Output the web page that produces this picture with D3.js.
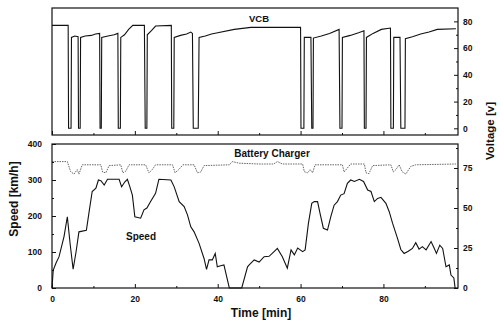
<!DOCTYPE html>
<html>
<head>
<meta charset="utf-8">
<script src="https://cdn.jsdelivr.net/npm/d3@7"></script>
<style>
    body { margin: 0; background: #fff; }
    svg { display: block; }
    text { font-family: "Liberation Sans", Arial, sans-serif; font-weight: bold; fill: #111; }
</style>
</head>
<body>
<svg id="chart" width="501" height="320"></svg>
<script>
// VCB voltage (top panel), time in min / volts
const vcbTime = [0, 3.9, 4.0, 4.6, 4.7, 5.5, 6.3, 6.4, 6.8, 6.9, 8, 9.5, 10.5, 11.5, 11.6, 11.9, 12.0,
    13.5, 15, 15.9, 16.0, 16.5, 16.6, 17.5, 18.5, 19.5, 22.3, 22.5, 22.9, 23.0, 24, 25, 28.8, 28.9, 29.4, 29.5,
    31, 32.5, 33.5, 33.9, 34.1, 35.3, 35.5, 37, 38.5, 40, 44, 48, 55, 60, 60.1, 60.8, 60.9, 62.5, 62.7, 63.0, 63.1,
    65, 67, 69.3, 69.5, 70.0, 70.1, 72, 74, 75.3, 75.4, 75.8, 75.9, 77.5, 79.5, 81.7, 81.8, 82.4, 82.5,
    84.0, 84.2, 85.2, 85.3, 87, 89, 91, 93, 97.5];
const vcbVolt = [77, 77, 0, 0, 68, 69, 68.5, 0, 0, 68, 69, 69.5, 70.5, 71, 0, 0, 68,
    69, 70, 71, 0, 0, 68, 70, 74, 77, 77, 0, 0, 70, 73, 76.5, 77, 0, 0, 68,
    69.5, 70.5, 72, 71, 0, 0, 68, 69, 70.5, 71.5, 74, 75.5, 75.5, 75.5, 0, 0, 68, 68, 0, 0, 67.5,
    69, 71, 74, 0, 0, 68, 69.5, 71.5, 73, 0, 0, 68, 71, 74, 75, 0, 0, 68,
    68, 0, 0, 67, 68.5, 70.5, 72, 74, 74.5];

// battery charger voltage (bottom panel, right axis)
const chgTime = [0, 3.7, 4.5, 5.3, 6.1, 6.5, 7.3, 11.8, 12.2, 13.0, 13.8, 16.6, 17.1, 17.8, 18.6,
    22.6, 23.4, 24.2, 25, 29.1, 29.7, 30.6, 31.6, 34.3, 35.1, 35.9, 36.7, 42.8, 43.5, 45.2, 50, 53.5, 54.4, 55.6,
    60.5, 60.9, 61.7, 62.3, 62.9, 63.5, 70.1, 70.5, 71.3, 72.1, 75.4, 75.8, 76.5, 77.4,
    81.8, 82.4, 83.0, 83.8, 84.5, 85.4, 86.6, 87.8, 97.5];
const chgVolt = [79, 79, 72.7, 71.2, 74, 71.2, 77, 77, 72.5, 72, 76.5, 77, 72, 73, 77,
    77, 72, 74, 77, 77, 72, 74, 77, 77, 72, 72.5, 76.5, 77, 79, 78, 77.5, 77.5, 79, 77.5,
    77.5, 72.7, 72, 74, 72, 77, 77, 72.5, 75, 77.5, 77.5, 72, 71.5, 76.5,
    77, 72.5, 74, 77, 72.7, 71.2, 76, 77, 77.5];

// train speed (bottom panel, left axis)
const spdTime = [0, 0.3, 1.0, 1.7, 2.9, 3.7, 4.4, 5.1, 5.8, 6.5, 8.3, 9.0, 9.7, 10.6, 11.2, 11.8, 12.6, 13.4,
    16.2, 16.8, 17.6, 18.2, 18.8, 19.4, 20.0, 21.4, 22.2, 22.9, 23.8, 25, 25.8, 28.7, 29.5, 30.7, 31.9, 32.7,
    33.5, 34.3, 35.5, 36.7, 37.3, 37.9, 38.7, 39.4, 39.9, 40.7, 41.5, 42.8, 45.8, 47.2, 47.6, 48.8, 50.0, 51.2,
    52.4, 53.6, 54.4, 55.6, 56.8, 57.7, 58.5, 59.3, 60.5, 61.1, 61.9, 62.7, 63.3, 64.1, 64.7, 65.5, 66.5,
    67.3, 68.1, 68.9, 69.7, 70.5, 71.3, 72.1, 73.0, 74.2, 75.2, 76.2, 77.0, 77.8, 78.6, 79.4, 80.6, 81.4,
    82.2, 83.4, 84.2, 85.0, 86.0, 87.0, 87.8, 88.6, 89.4, 90.3, 91.5, 92.2, 92.8, 93.6, 94.3, 95.1, 95.9,
    96.3, 97.0, 97.3];
const spdKmh = [0, 50, 70, 87, 143, 198, 120, 52, 100, 156, 160, 215, 268, 277, 300, 298, 286, 302,
    302, 281, 295, 302, 281, 258, 198, 194, 217, 222, 240, 263, 302, 300, 281, 240, 226, 203,
    170, 156, 124, 82, 52, 78, 78, 96, 59, 62, 64, 0, 0, 59, 64, 78, 72, 87,
    88, 101, 110, 87, 55, 106, 92, 111, 101, 106, 180, 235, 240, 240, 207, 166, 161,
    198, 230, 240, 258, 262, 291, 300, 296, 302, 296, 272, 268, 240, 249, 252, 235, 212,
    180, 138, 107, 96, 102, 110, 126, 108, 115, 106, 129, 112, 96, 119, 110, 59, 64,
    36, 28, 0];

const timeTicks = [0, 20, 40, 60, 80];
const vcbTicks = [0, 20, 40, 60, 80];
const speedTicks = [0, 100, 200, 300, 400];
const chgTicks = [0, 25, 50, 75];

const svg = d3.select("#chart");
const left = 52, right = 458;

const x = d3.scaleLinear().domain([0, 98]).range([left, right]);
const yVcb = d3.scaleLinear().domain([-5, 90]).range([135, 8]);
const ySpd = d3.scaleLinear().domain([0, 400]).range([288, 144]);
const yChg = d3.scaleLinear().domain([0, 90]).range([288, 144]);

function zip(a, b) {
    return a.map((t, i) => [t, b[i]]);
}

function minorAxis(axisFn, scale, values, g) {
    g.call(axisFn(scale).tickValues(values).tickSizeInner(-2).tickSizeOuter(0).tickFormat(""));
    g.select(".domain").remove();
}

function styleAxis(g) {
    g.select(".domain").remove();
    g.selectAll("line").attr("stroke", "#111").attr("stroke-width", 1);
    g.selectAll("text").attr("font-size", 8.5).attr("font-family", null);
}

// ---- top panel: VCB ----
const topPanel = svg.append("g");

topPanel.append("path")
    .datum(zip(vcbTime, vcbVolt))
    .attr("fill", "none")
    .attr("stroke", "#111")
    .attr("stroke-width", 1.1)
    .attr("d", d3.line().x(d => x(d[0])).y(d => yVcb(d[1])));

let g = topPanel.append("g").attr("transform", `translate(0,135)`)
    .call(d3.axisBottom(x).tickValues(timeTicks).tickSizeInner(-4).tickSizeOuter(0).tickFormat(""));
styleAxis(g);
g = topPanel.append("g").attr("transform", `translate(0,135)`);
minorAxis(d3.axisBottom, x, [10, 30, 50, 70, 90], g);
styleAxis(g);

g = topPanel.append("g").attr("transform", `translate(${right},0)`)
    .call(d3.axisRight(yVcb).tickValues(vcbTicks).tickSizeInner(-4).tickSizeOuter(0).tickPadding(5));
styleAxis(g);
g = topPanel.append("g").attr("transform", `translate(${right},0)`);
minorAxis(d3.axisRight, yVcb, [10, 30, 50, 70], g);
styleAxis(g);

topPanel.append("rect")
    .attr("x", left).attr("y", 8)
    .attr("width", right - left).attr("height", 127)
    .attr("fill", "none").attr("stroke", "#111").attr("stroke-width", 1.2);

topPanel.append("text")
    .attr("x", 259).attr("y", 22)
    .attr("text-anchor", "middle")
    .attr("font-size", 9.5)
    .text("VCB");

// ---- bottom panel: speed + battery charger ----
const botPanel = svg.append("g");

botPanel.append("path")
    .datum(zip(chgTime, chgVolt))
    .attr("fill", "none")
    .attr("stroke", "#666")
    .attr("stroke-width", 1)
    .attr("stroke-dasharray", "1.5,1")
    .attr("d", d3.line().x(d => x(d[0])).y(d => yChg(d[1])));

botPanel.append("path")
    .datum(zip(spdTime, spdKmh))
    .attr("fill", "none")
    .attr("stroke", "#111")
    .attr("stroke-width", 1.1)
    .attr("d", d3.line().x(d => x(d[0])).y(d => ySpd(d[1])));

g = botPanel.append("g").attr("transform", `translate(0,288)`)
    .call(d3.axisBottom(x).tickValues(timeTicks).tickSizeInner(-4).tickSizeOuter(0).tickPadding(8));
styleAxis(g);
g = botPanel.append("g").attr("transform", `translate(0,288)`);
minorAxis(d3.axisBottom, x, [10, 30, 50, 70, 90], g);
styleAxis(g);

g = botPanel.append("g").attr("transform", `translate(${left},0)`)
    .call(d3.axisLeft(ySpd).tickValues(speedTicks).tickSizeInner(-4).tickSizeOuter(0).tickPadding(10));
styleAxis(g);
g = botPanel.append("g").attr("transform", `translate(${left},0)`);
minorAxis(d3.axisLeft, ySpd, [50, 150, 250, 350], g);
styleAxis(g);

g = botPanel.append("g").attr("transform", `translate(${right},0)`)
    .call(d3.axisRight(yChg).tickValues(chgTicks).tickSizeInner(-4).tickSizeOuter(0).tickPadding(5));
styleAxis(g);
g = botPanel.append("g").attr("transform", `translate(${right},0)`);
minorAxis(d3.axisRight, yChg, [12.5, 37.5, 62.5, 87.5], g);
styleAxis(g);

botPanel.append("rect")
    .attr("x", left).attr("y", 144)
    .attr("width", right - left).attr("height", 144)
    .attr("fill", "none").attr("stroke", "#111").attr("stroke-width", 1.2);

botPanel.append("text")
    .attr("x", 272).attr("y", 157)
    .attr("text-anchor", "middle")
    .attr("font-size", 10)
    .text("Battery Charger");

botPanel.append("text")
    .attr("x", 141).attr("y", 240)
    .attr("text-anchor", "middle")
    .attr("font-size", 10)
    .text("Speed");

// axis titles
svg.append("text")
    .attr("transform", "translate(18,199) rotate(-90)")
    .attr("text-anchor", "middle")
    .attr("font-size", 12)
    .text("Speed [km/h]");

svg.append("text")
    .attr("transform", "translate(494,131) rotate(-90)")
    .attr("text-anchor", "middle")
    .attr("font-size", 11.5)
    .text("Voltage [v]");

svg.append("text")
    .attr("x", 261).attr("y", 317)
    .attr("text-anchor", "middle")
    .attr("font-size", 12)
    .text("Time [min]");
</script>
</body>
</html>
